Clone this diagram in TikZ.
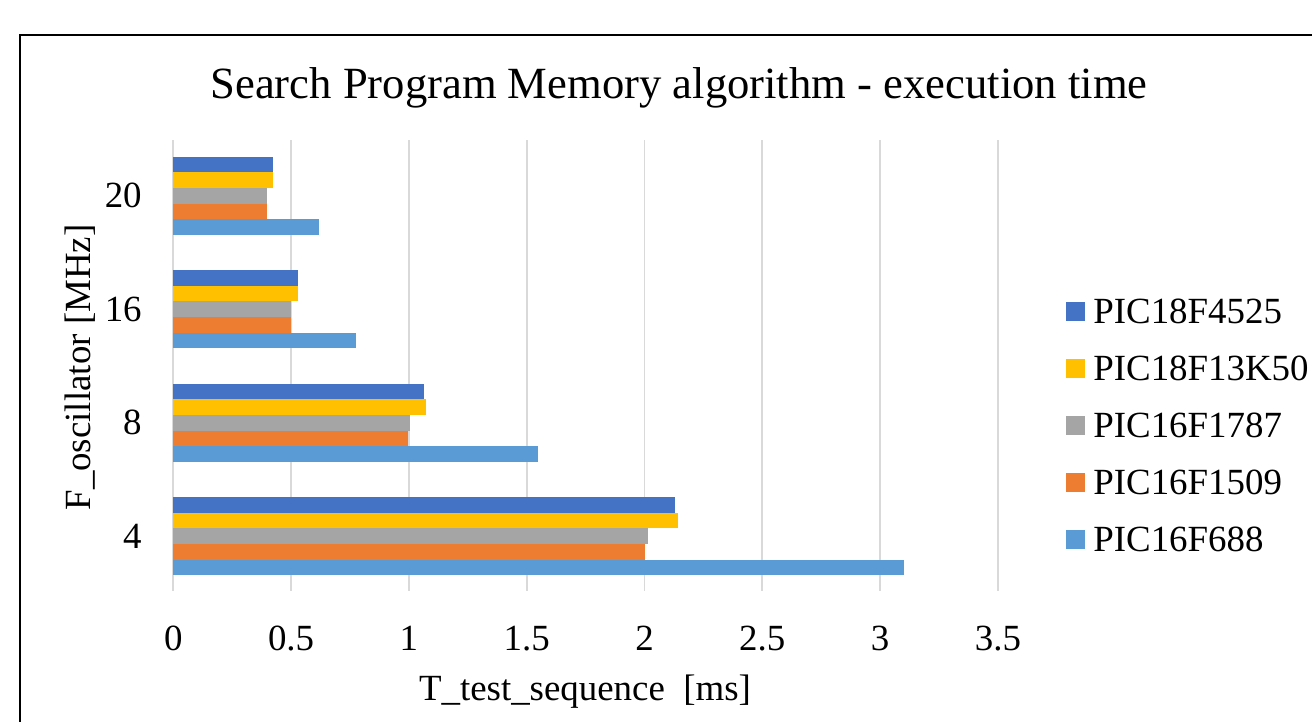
\documentclass[tikz,border=0pt]{standalone}
\usepackage{fontspec}
\setmainfont{Liberation Serif}

\definecolor{dkblue}{HTML}{4472C4}
\definecolor{gold}{HTML}{FFC000}
\definecolor{midgray}{HTML}{A5A5A5}
\definecolor{orange}{HTML}{ED7D31}
\definecolor{ltblue}{HTML}{5B9BD5}
\definecolor{gridgray}{HTML}{D9D9D9}

\begin{document}
\begin{tikzpicture}[x=0.02cm, y=-0.02cm,
		grid/.style={draw=gridgray, line width=1.1pt},
		lbl/.style={font=\fontsize{21}{25}\selectfont, inner sep=0pt}]
		\useasboundingbox (0,0) rectangle (1312,721);
		\clip (0,0) rectangle (1312,721);
		\fill[white] (0,0) rectangle (1312,721);
		\draw[line width=1.1pt] (20,35) rectangle (1400,800);

		\node[font=\fontsize{25.4}{30}\selectfont, inner sep=0pt, anchor=base] (title) at (679,98) {Search Program Memory algorithm - execution time};

		\draw[grid] (173.3,140) -- (173.3,591);
		\draw[grid] (291.1,140) -- (291.1,591);
		\draw[grid] (408.9,140) -- (408.9,591);
		\draw[grid] (526.7,140) -- (526.7,591);
		\draw[grid] (644.5,140) -- (644.5,591);
		\draw[grid] (762.3,140) -- (762.3,591);
		\draw[grid] (880.1,140) -- (880.1,591);
		\draw[grid] (997.9,140) -- (997.9,591);

		\begin{scope}[shift={(173.3,0)}, x=4.712cm]
			\fill[dkblue]  (0,156.7) rectangle (0.425,172.3);
			\fill[gold]    (0,172.3) rectangle (0.425,187.9);
			\fill[midgray] (0,187.9) rectangle (0.399,203.5);
			\fill[orange]  (0,203.5) rectangle (0.396,219.1);
			\fill[ltblue]  (0,219.1) rectangle (0.617,234.7);

			\fill[dkblue]  (0,270.2) rectangle (0.531,285.8);
			\fill[gold]    (0,285.8) rectangle (0.531,301.4);
			\fill[midgray] (0,301.4) rectangle (0.498,317.0);
			\fill[orange]  (0,317.0) rectangle (0.498,332.6);
			\fill[ltblue]  (0,332.6) rectangle (0.775,348.2);

			\fill[dkblue]  (0,383.7) rectangle (1.063,399.3);
			\fill[gold]    (0,399.3) rectangle (1.071,414.9);
			\fill[midgray] (0,414.9) rectangle (1.004,430.5);
			\fill[orange]  (0,430.5) rectangle (0.997,446.1);
			\fill[ltblue]  (0,446.1) rectangle (1.548,461.7);

			\fill[dkblue]  (0,497.2) rectangle (2.130,512.8);
			\fill[gold]    (0,512.8) rectangle (2.144,528.4);
			\fill[midgray] (0,528.4) rectangle (2.014,544.0);
			\fill[orange]  (0,544.0) rectangle (2.001,559.6);
			\fill[ltblue]  (0,559.6) rectangle (3.100,575.2);
		\end{scope}

		\node[lbl, anchor=east] (f20) at (142,195.7) {20};
		\node[lbl, anchor=east] (f16) at (142,309.2) {16};
		\node[lbl, anchor=east] (f8) at (142,422.7) {8};
		\node[lbl, anchor=east] (f4) at (142,536.2) {4};
		\node[lbl, rotate=90] (ytitle) at (80,367.5) {F\_oscillator [MHz]};

		\node[lbl, anchor=base] (t0) at (173.3,650) {0};
		\node[lbl, anchor=base] (t1) at (291.1,650) {0.5};
		\node[lbl, anchor=base] (t2) at (408.9,650) {1};
		\node[lbl, anchor=base] (t3) at (526.7,650) {1.5};
		\node[lbl, anchor=base] (t4) at (644.5,650) {2};
		\node[lbl, anchor=base] (t5) at (762.3,650) {2.5};
		\node[lbl, anchor=base] (t6) at (880.1,650) {3};
		\node[lbl, anchor=base] (t7) at (997.9,650) {3.5};
		\node[lbl, anchor=base] (xtitle) at (585,700) {T\_test\_sequence\ \ [ms]};

		\fill[dkblue]  (1066,301.5) rectangle (1085,320.5);
		\fill[gold]    (1066,358.5) rectangle (1085,377.5);
		\fill[midgray] (1066,415.5) rectangle (1085,434.5);
		\fill[orange]  (1066,472.5) rectangle (1085,491.5);
		\fill[ltblue]  (1066,529.5) rectangle (1085,548.5);
		\node[lbl, anchor=west] (k1) at (1093,311) {PIC18F4525};
		\node[lbl, anchor=west] (k2) at (1093,368) {PIC18F13K50};
		\node[lbl, anchor=west] (k3) at (1093,425) {PIC16F1787};
		\node[lbl, anchor=west] (k4) at (1093,482) {PIC16F1509};
		\node[lbl, anchor=west] (k5) at (1093,539) {PIC16F688};
	\end{tikzpicture}
\end{document}
